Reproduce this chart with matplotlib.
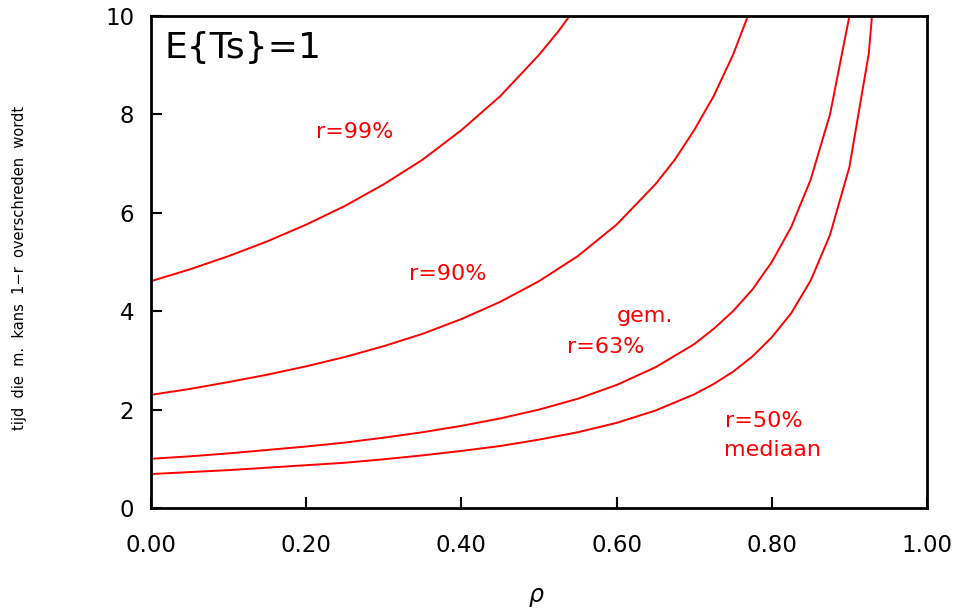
import matplotlib
matplotlib.use('Agg')
import matplotlib.pyplot as plt

# bezettingsgraad rho en de tijden per overschrijdingskans
rho_99 = [0.00, 0.05, 0.10, 0.15, 0.20, 0.25, 0.30, 0.35, 0.40, 0.45, 0.50,
          0.525, 0.55]
t_99 = [4.61, 4.85, 5.12, 5.42, 5.76, 6.14, 6.58, 7.08, 7.68, 8.37, 9.21,
        9.69, 10.23]

rho_90 = [0.00, 0.05, 0.10, 0.15, 0.20, 0.25, 0.30, 0.35, 0.40, 0.45, 0.50,
          0.55, 0.60, 0.65, 0.675, 0.70, 0.725, 0.75, 0.775, 0.80]
t_90 = [2.30, 2.42, 2.56, 2.71, 2.88, 3.07, 3.29, 3.54, 3.84, 4.19, 4.61,
        5.12, 5.76, 6.58, 7.08, 7.68, 8.37, 9.21, 10.24, 11.51]

rho_63 = [0.00, 0.05, 0.10, 0.15, 0.20, 0.25, 0.30, 0.35, 0.40, 0.45, 0.50,
          0.55, 0.60, 0.65, 0.70, 0.725, 0.75, 0.775, 0.80, 0.825, 0.85, 0.875, 0.90]
t_63 = [1.00, 1.05, 1.11, 1.18, 1.25, 1.33, 1.43, 1.54, 1.67, 1.82, 2.00,
        2.22, 2.50, 2.86, 3.33, 3.64, 4.00, 4.44, 5.00, 5.71, 6.67, 8.00, 10.00]

rho_50 = [0.00, 0.05, 0.10, 0.15, 0.20, 0.25, 0.30, 0.35, 0.40, 0.45, 0.50,
          0.55, 0.60, 0.65, 0.70, 0.725, 0.75, 0.775, 0.80, 0.825, 0.85, 0.875,
          0.90, 0.925, 0.95]
t_50 = [0.69, 0.73, 0.77, 0.82, 0.87, 0.92, 0.99, 1.07, 1.16, 1.26, 1.39,
        1.54, 1.73, 1.98, 2.31, 2.52, 2.77, 3.08, 3.47, 3.96, 4.62, 5.55,
        6.93, 9.24, 13.86]

x_ticks = [0.0, 0.2, 0.4, 0.6, 0.8, 1.0]
x_labels = ['0.00', '0.20', '0.40', '0.60', '0.80', '1.00']
y_ticks = [0, 2, 4, 6, 8, 10]

rood = '#ff0000'

fig = plt.figure(figsize=(9.57, 6.12), dpi=100)
ax = fig.add_axes([151 / 957, 1 - 508 / 612, 776 / 957, 492 / 612])

for rr, tt in [(rho_99, t_99), (rho_90, t_90), (rho_63, t_63), (rho_50, t_50)]:
    ax.plot(rr, tt, color=rood, linewidth=1.4)

ax.set_xlim(0, 1)
ax.set_ylim(0, 10)
ax.set_xticks(x_ticks)
ax.set_xticklabels(x_labels)
ax.set_yticks(y_ticks)

for s in ax.spines.values():
    s.set_linewidth(2)
ax.tick_params(direction='in', length=8, width=1.5, labelsize=16.5, pad=12)
ax.tick_params(axis='x', pad=19)

# teksten in de grafiek
ax.text(0.018, 9.35, 'E{Ts}=1', fontsize=26, color='black', va='center')
ax.text(0.212, 7.65, 'r=99%', fontsize=16, color=rood, va='center')
ax.text(0.333, 4.75, 'r=90%', fontsize=16, color=rood, va='center')
ax.text(0.600, 3.9, 'gem.', fontsize=16, color=rood, va='center')
ax.text(0.536, 3.27, 'r=63%', fontsize=16, color=rood, va='center')
ax.text(0.740, 1.77, 'r=50%', fontsize=16, color=rood, va='center')
ax.text(0.739, 1.18, 'mediaan', fontsize=16, color=rood, va='center')

fig.text(536 / 957, 1 - 597 / 612, r'$\rho$', fontsize=17, ha='center', va='center')
fig.text(20 / 957, 1 - 268 / 612, 'tijd  die  m.  kans  1\u2212r  overschreden  wordt',
         fontsize=10.5, rotation=90, ha='center', va='center')

fig.savefig('out.png', dpi=100)
